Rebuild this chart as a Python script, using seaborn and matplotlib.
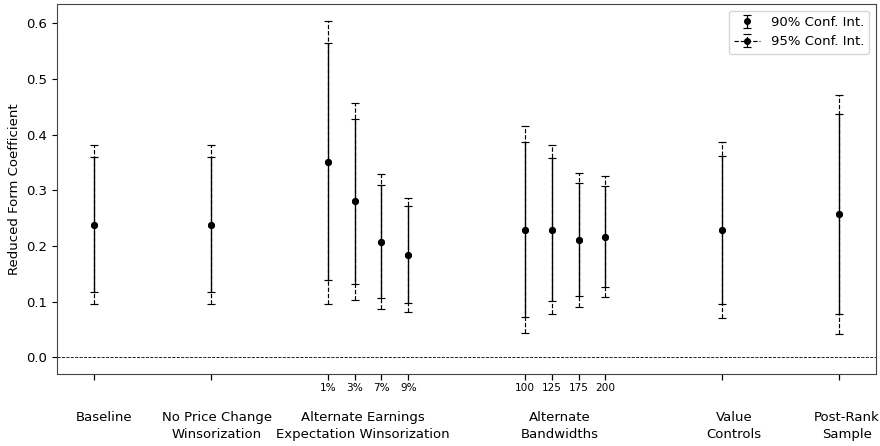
import numpy as np
import pandas as pd
import matplotlib
matplotlib.use("Agg")
import matplotlib.pyplot as plt
import matplotlib.transforms as mtransforms
import seaborn as sns

# ---------------- data ----------------
group_names = ["Baseline", "No Price Change\nWinsorization",
               "Alternate Earnings\nExpectation Winsorization",
               "Alternate\nBandwidths", "Value\nControls", "Post-Rank\nSample"]
group_sizes = [1, 1, 4, 4, 1, 1]
sub_labels = ["", "", "1%", "3%", "7%", "9%", "100", "125", "175", "200", "", ""]

coef     = [0.238, 0.238, 0.351, 0.280, 0.207, 0.184, 0.229, 0.229, 0.211, 0.216, 0.229, 0.257]
ci90_lo  = [0.117, 0.117, 0.138, 0.131, 0.106, 0.097, 0.073, 0.101, 0.110, 0.126, 0.095, 0.077]
ci90_hi  = [0.359, 0.359, 0.564, 0.429, 0.309, 0.271, 0.386, 0.358, 0.313, 0.307, 0.361, 0.437]
ci95_lo  = [0.095, 0.095, 0.096, 0.103, 0.086, 0.081, 0.043, 0.077, 0.090, 0.108, 0.070, 0.042]
ci95_hi  = [0.382, 0.382, 0.605, 0.457, 0.329, 0.287, 0.415, 0.382, 0.332, 0.325, 0.386, 0.472]

# ---------------- layout ----------------
step_in, gap = 0.23, 1.0
xs = []
cur = 0.0
for gs in group_sizes:
    for k in range(gs):
        xs.append(cur + k * step_in)
    cur = xs[-1] + gap
xs = np.array(xs)
label_x_offsets = [0.08, 0.05, -0.045, -0.05, 0.1, 0.07]

df = pd.DataFrame({"x": xs, "coef": coef, "lo90": ci90_lo, "hi90": ci90_hi,
                   "lo95": ci95_lo, "hi95": ci95_hi, "sub": sub_labels})

fs = 9.5
fig = plt.figure(figsize=(8.8, 4.46), dpi=100)
ax = fig.add_axes([0.065, 0.1614, 0.9305, 0.8296])

lw = 0.85
cap = 2.6
h95 = None
for i, r in df.iterrows():
    eb = ax.errorbar([r.x], [r.coef], yerr=[[r.coef - r.lo95], [r.hi95 - r.coef]],
                     fmt='o', ls='--', color='black', ms=4.0, elinewidth=lw,
                     capsize=cap, capthick=lw, lw=lw, zorder=2)
    eb[2][0].set_linestyle('--')
    if h95 is None:
        h95 = eb
h90 = ax.errorbar(df.x, df.coef, yerr=[df.coef - df.lo90, df.hi90 - df.coef],
                  fmt='o', ls='none', color='black', ms=4.0, elinewidth=lw + 0.1,
                  capsize=cap, capthick=lw, zorder=3)

sns.scatterplot(data=df, x="x", y="coef", ax=ax, color='black', s=16,
                edgecolor='black', linewidth=0, zorder=4, legend=False)

ax.axhline(0, color='black', ls='--', lw=0.6, zorder=1)

ax.set_xlim(-0.319, 6.699)
ax.set_ylim(-0.0302, 0.6349)
ax.set_xticks(xs)
ax.set_xticklabels(sub_labels, fontsize=7.6)
ax.tick_params(axis='x', length=4.3, width=0.9, pad=2.0)
ax.set_yticks(np.arange(0, 0.61, 0.1))
ax.set_yticklabels([f"{v:.1f}" for v in np.arange(0, 0.61, 0.1)], fontsize=fs)
ax.tick_params(axis='y', length=3.5, width=0.8)
ax.set_xlabel("")
ax.set_ylabel("Reduced Form Coefficient", fontsize=fs)
for sp in ax.spines.values():
    sp.set_linewidth(0.8)
    sp.set_color('#444444')

trans = mtransforms.blended_transform_factory(ax.transData, ax.transAxes)
start = 0
for name, gs, off in zip(group_names, group_sizes, label_x_offsets):
    center = xs[start:start + gs].mean()
    ax.text(center + off, -0.1, name, transform=trans, ha='center', va='top',
            fontsize=fs, linespacing=1.35)
    start += gs

ax.legend([h90, h95], ["90% Conf. Int.", "95% Conf. Int."], loc='upper right',
          fontsize=fs)

fig.savefig("out.png", dpi=100)
